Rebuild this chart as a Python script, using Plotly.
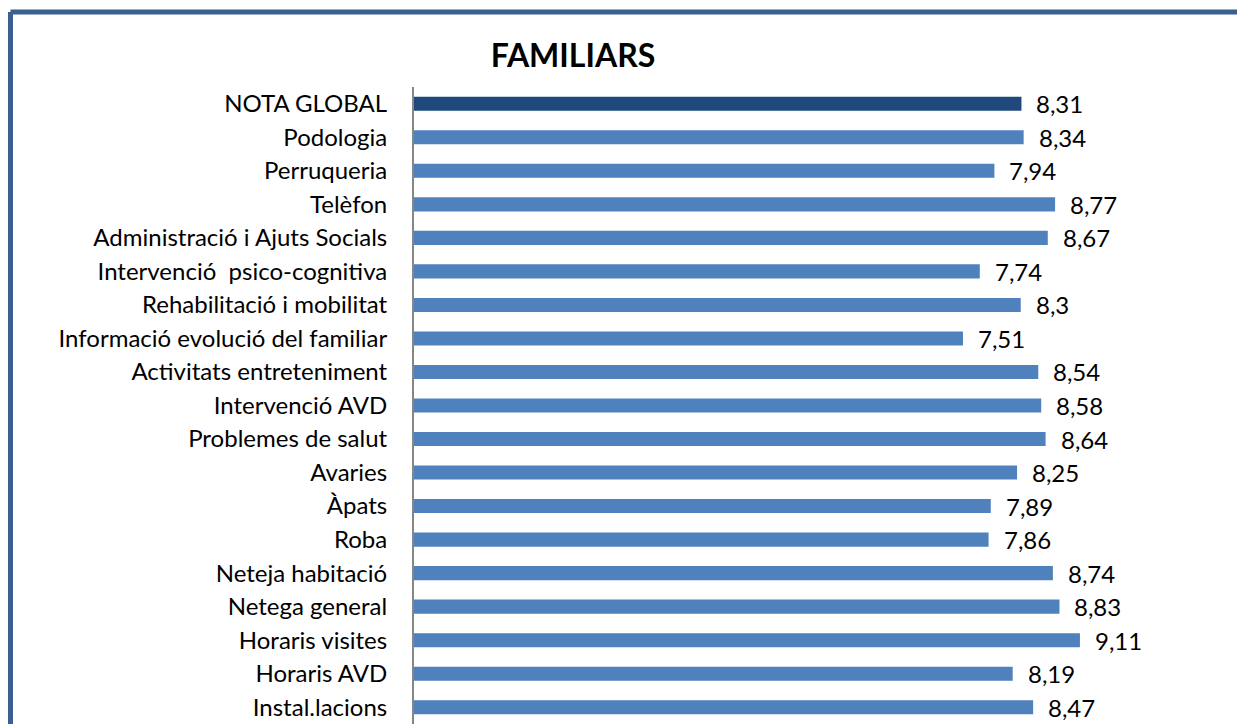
import plotly.graph_objects as go

categories = [
    "NOTA GLOBAL", "Podologia", "Perruqueria", "Telèfon",
    "Administració i Ajuts Socials", "Intervenció\u00a0 psico-cognitiva",
    "Rehabilitació i mobilitat", "Informació evolució del familiar",
    "Activitats entreteniment", "Intervenció AVD", "Problemes de salut",
    "Avaries", "Àpats", "Roba", "Neteja habitació", "Netega general",
    "Horaris visites", "Horaris AVD", "Instal.lacions",
]
values = [8.31, 8.34, 7.94, 8.77, 8.67, 7.74, 8.3, 7.51, 8.54, 8.58, 8.64,
          8.25, 7.89, 7.86, 8.74, 8.83, 9.11, 8.19, 8.47]
title_text = "FAMILIARS"

colors = ["#1F497D"] + ["#4F81BD"] * (len(values) - 1)
labels = [("%g" % v).replace(".", ",") for v in values]

# page body has an 8px margin; figure positioned to compensate (it overflows the window, as the reference is cropped)
OFF = 8
W, H = 1245, 724
L, R, T, B = 414 - OFF, 100 + OFF, 87 - OFF, OFF

fig = go.Figure()
fig.add_trace(go.Bar(
    x=values, y=categories, orientation="h",
    marker=dict(color=colors, line=dict(width=0)),
    width=0.42, hoverinfo="skip",
))

for v, c, lab in zip(values, categories, labels):
    fig.add_annotation(x=v, y=c, text=lab, showarrow=False, xanchor="left",
                       xshift=13, yshift=0,
                       font=dict(family="Lato", size=24, color="#000000"))

pw = W - L - R
ph = H - T - B
bx = (10.5 - OFF - L) / pw
by = (H - B - (12 - OFF)) / ph
fig.add_shape(type="line", xref="paper", yref="paper", x0=bx, x1=bx, y0=-0.2, y1=by,
              line=dict(color="#3B5F8F", width=5))
fig.add_shape(type="line", xref="paper", yref="paper", x0=bx, x1=1.3, y0=by, y1=by,
              line=dict(color="#3B5F8F", width=5))

fig.update_layout(
    width=W, height=H,
    margin=dict(l=L, r=R, t=T, b=B, pad=0),
    paper_bgcolor="white", plot_bgcolor="white",
    showlegend=False,
    title=dict(text="<b>" + title_text + "</b>", x=(573 - OFF - L) / pw, xref="paper",
               xanchor="center", y=1 - (56 - OFF) / H, yanchor="middle",
               font=dict(family="Lato", size=32, color="#000000")),
    xaxis=dict(range=[0, 10], showgrid=False, zeroline=False, showline=False,
               showticklabels=False, ticks="", fixedrange=True),
    yaxis=dict(type="category", categoryorder="array", categoryarray=categories,
               range=[len(categories) - 0.5, -0.5], showgrid=False, zeroline=False,
               showline=True, linecolor="#868686", linewidth=2, ticks="",
               ticklabelstandoff=20,
               tickfont=dict(family="Lato", size=24, color="#000000")),
)

fig.write_html("out.html")
